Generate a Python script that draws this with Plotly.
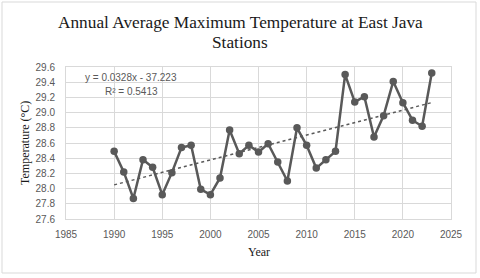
import plotly.graph_objects as go

years = list(range(1990, 2024))
tmax = [28.49, 28.22, 27.87, 28.38, 28.28, 27.92, 28.21, 28.54, 28.57, 27.99,
        27.92, 28.14, 28.77, 28.46, 28.57, 28.48, 28.59, 28.35, 28.10, 28.80,
        28.57, 28.27, 28.38, 28.49, 29.50, 29.14, 29.21, 28.68, 28.96, 29.41,
        29.13, 28.90, 28.82, 29.52]
slope = 0.0328
intercept = -37.223
r2 = 0.5413
xticks = [1985, 1990, 1995, 2000, 2005, 2010, 2015, 2020, 2025]
yticks = [27.6, 27.8, 28.0, 28.2, 28.4, 28.6, 28.8, 29.0, 29.2, 29.4, 29.6]
title_lines = ["Annual Average Maximum Temperature at East Java", "Stations"]

trend_x = [years[0], years[-1]]
trend_y = [slope * x + intercept for x in trend_x]

L, R, T, B = 66, 29, 67, 59
W, H = 480, 278
pw, ph = W - L - R, H - T - B


def px(x):
    return (x - L) / pw


def py(y):
    return (H - B - y) / ph


serif = "Liberation Serif"
sans = "Liberation Sans"

fig = go.Figure()
fig.add_trace(go.Scatter(x=years, y=tmax, mode="lines+markers",
                         line=dict(color="#595959", width=2.5),
                         marker=dict(color="#595959", size=7.5), showlegend=False))
fig.add_trace(go.Scatter(x=trend_x, y=trend_y, mode="lines",
                         line=dict(color="#595959", width=1.5, dash="dot"), showlegend=False))

ann = [
    dict(text=title_lines[0], x=px(240), y=py(22), font=dict(family=serif, size=17.3, color="#1a1a1a")),
    dict(text=title_lines[1], x=px(240), y=py(43), font=dict(family=serif, size=17.3, color="#1a1a1a")),
    dict(text="Year", x=px(259), y=py(252), font=dict(family=serif, size=12, color="#1a1a1a")),
    dict(text="Temperature (°C)", x=px(25), y=py(143), textangle=-90,
         font=dict(family=serif, size=12, color="#1a1a1a")),
    dict(text=f"y = {slope}x - {abs(intercept)}", x=px(131), y=py(77),
         font=dict(family=sans, size=10, color="#595959")),
    dict(text=f"R² = {r2}", x=px(131), y=py(91), font=dict(family=sans, size=10, color="#595959")),
]
for a in ann:
    a.update(xref="paper", yref="paper", xanchor="center", yanchor="middle", showarrow=False)

fig.update_layout(
    width=W, height=H, margin=dict(l=L, r=R, t=T, b=B, autoexpand=False),
    paper_bgcolor="white", plot_bgcolor="white",
    xaxis=dict(range=[1985, 2025], tickvals=xticks, showgrid=True, gridcolor="#d9d9d9",
               gridwidth=1, showline=True, linecolor="#d9d9d9", mirror=True, zeroline=False,
               ticks="", ticklabelstandoff=6, automargin=False,
               tickfont=dict(family=sans, size=10, color="#595959")),
    yaxis=dict(range=[27.6, 29.6], tickvals=yticks, tickformat=".1f", showgrid=True,
               gridcolor="#d9d9d9", gridwidth=1, showline=True, linecolor="#d9d9d9", mirror=True,
               zeroline=False, ticks="", ticklabelstandoff=8, automargin=False,
               tickfont=dict(family=sans, size=10, color="#595959")),
    shapes=[dict(type="rect", xref="paper", yref="paper",
                 x0=px(2), x1=px(476), y0=py(273), y1=py(2),
                 line=dict(color="#d9d9d9", width=1), fillcolor="rgba(0,0,0,0)", layer="below")],
    annotations=ann,
)
fig.write_html("out.html", config={"displayModeBar": False},
               post_script="document.body.style.margin='0';")
